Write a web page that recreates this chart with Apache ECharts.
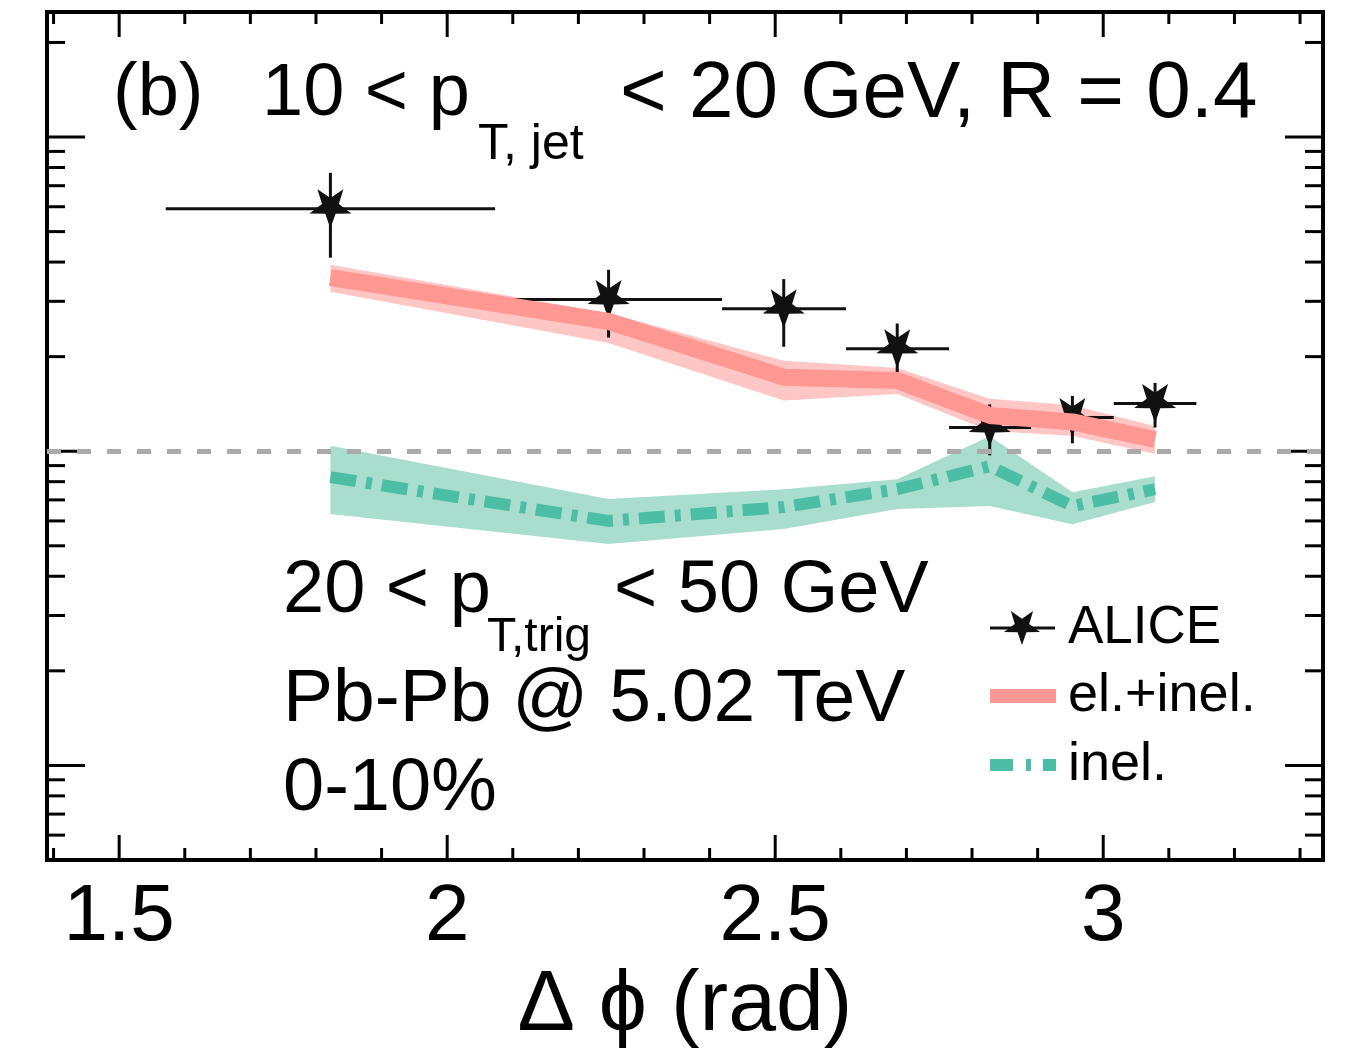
<!DOCTYPE html>
<html>
<head>
<meta charset="utf-8">
<script src="https://cdn.jsdelivr.net/npm/echarts@6/dist/echarts.min.js"></script>
<style>
html, body { margin: 0; padding: 0; background: #fff; }
#main { width: 1351px; height: 1054px; }
</style>
</head>
<body>
<div id="main"></div>
<script>
/* ALICE points: bin centre, bin edges, value, stat. error */
var aliceX   = [1.822, 2.246, 2.513, 2.686, 2.827, 2.953, 3.079];
var aliceXLo = [1.571, 2.073, 2.419, 2.608, 2.765, 2.890, 3.016];
var aliceXHi = [2.073, 2.419, 2.608, 2.765, 2.890, 3.016, 3.142];
var aliceY   = [5.91, 3.04, 2.84, 2.12, 1.19, 1.28, 1.42];
var aliceErr = [1.78, 0.74, 0.69, 0.43, 0.22, 0.22, 0.23];

/* model: el.+inel. and inel. (central value + band) */
var modelX   = [1.822, 2.246, 2.513, 2.686, 2.827, 2.953, 3.079];
var elInel   = [3.57, 2.59, 1.72, 1.68, 1.30, 1.24, 1.09];
var elInelLo = [3.22, 2.21, 1.45, 1.52, 1.16, 1.12, 0.98];
var elInelHi = [3.92, 2.75, 1.94, 1.84, 1.47, 1.40, 1.20];
var inel     = [0.827, 0.600, 0.664, 0.757, 0.896, 0.669, 0.757];
var inelLo   = [0.631, 0.507, 0.566, 0.655, 0.669, 0.586, 0.689];
var inelHi   = [1.040, 0.704, 0.757, 0.815, 1.116, 0.741, 0.833];

/* tick marks */
var xMajor = [1.5, 2, 2.5, 3];
var xMinor = [1.4, 1.6, 1.7, 1.8, 1.9, 2.1, 2.2, 2.3, 2.4, 2.6, 2.7, 2.8, 2.9, 3.1, 3.2, 3.3];
var yMajor = [0.1, 1, 10];
var yMinor = [0.05, 0.06, 0.07, 0.08, 0.09, 0.2, 0.3, 0.4, 0.5, 0.6, 0.7, 0.8, 0.9,
              2, 3, 4, 5, 6, 7, 8, 9, 20];

var FONT = 'Liberation Sans';
var RED = '#ff9793', PINK = '#ffc6c6', GREEN = '#4dbea6', LGREEN = '#a9dece';
// upside-down five point star, 200x200 box
var STAR_PTS = [[100,200],[76.5,132.4],[4.9,130.9],[62,87.6],[41.2,19.1],[100,60],
                [158.8,19.1],[138,87.6],[195.1,130.9],[123.5,132.4]];
var STAR = 'path://M' + STAR_PTS.map(function (p) { return p.join(','); }).join('L') + 'Z';

function starAt(cx, cy, w, h) {
    return STAR_PTS.map(function (p) {
        return [cx + (p[0] - 100) / 190.2 * w, cy + (p[1] - 109.5) / 180.9 * h];
    });
}

function zip(a, b, c) {
    return a.map(function (v, i) { return c ? [v, b[i], c[i]] : [v, b[i]]; });
}

// band drawn as one polygon through the axis scales
function bandItem(xs, lo, hi, color) {
    return function (params, api) {
        if (params.dataIndex !== 0) return;
        var pts = [];
        for (var i = 0; i < xs.length; i++) pts.push(api.coord([xs[i], hi[i]]));
        for (var j = xs.length - 1; j >= 0; j--) pts.push(api.coord([xs[j], lo[j]]));
        return { type: 'polygon', shape: { points: pts }, style: { fill: color } };
    };
}

// inward ticks on both sides of the frame
function tickItem(dim, len) {
    return function (params, api) {
        var cs = params.coordSys;
        var st = { stroke: '#000', lineWidth: 3 };
        if (dim === 'x') {
            var px = api.coord([api.value(0), 1])[0];
            return { type: 'group', children: [
                { type: 'line', shape: { x1: px, y1: cs.y + cs.height, x2: px, y2: cs.y + cs.height - len }, style: st },
                { type: 'line', shape: { x1: px, y1: cs.y, x2: px, y2: cs.y + len }, style: st }
            ] };
        }
        var py = api.coord([2, api.value(1)])[1];
        return { type: 'group', children: [
            { type: 'line', shape: { x1: cs.x, y1: py, x2: cs.x + len, y2: py }, style: st },
            { type: 'line', shape: { x1: cs.x + cs.width, y1: py, x2: cs.x + cs.width - len, y2: py }, style: st }
        ] };
    };
}

function errItem(params, api) {
    var i = params.dataIndex;
    var c = api.coord([aliceX[i], aliceY[i]]);
    var l = api.coord([aliceXLo[i], aliceY[i]]);
    var r = api.coord([aliceXHi[i], aliceY[i]]);
    var t = api.coord([aliceX[i], aliceY[i] + aliceErr[i]]);
    var b = api.coord([aliceX[i], aliceY[i] - aliceErr[i]]);
    var st = { stroke: '#111', lineWidth: 3 };
    return { type: 'group', children: [
        { type: 'line', shape: { x1: l[0], y1: c[1], x2: r[0], y2: c[1] }, style: st },
        { type: 'line', shape: { x1: c[0], y1: t[1], x2: c[0], y2: b[1] }, style: st }
    ] };
}

function txt(str, x, y, size) {
    return { type: 'text', x: x, y: y,
             style: { text: str, fontSize: size, fontFamily: FONT, fill: '#000',
                      align: 'left', verticalAlign: 'middle' } };
}

var myChart = echarts.init(document.getElementById('main'));
var option = {
    animation: false,
    backgroundColor: '#fff',
    grid: {
        left: 47, right: 28, top: 12, bottom: 194,
        show: true, borderColor: '#000', borderWidth: 4
    },
    xAxis: {
        type: 'value', min: 1.39, max: 3.335, splitNumber: 4,
        axisLine: { show: false }, axisTick: { show: false }, splitLine: { show: false },
        axisLabel: {
            fontSize: 80, color: '#000', fontFamily: FONT, margin: 18,
            showMinLabel: false, showMaxLabel: false
        },
        name: 'Δ ϕ (rad)', nameLocation: 'middle', nameGap: 96,
        nameTextStyle: { fontSize: 86, color: '#000', fontFamily: FONT }
    },
    yAxis: {
        type: 'log', logBase: 10, min: 0.05, max: 25,
        axisLine: { show: false }, axisTick: { show: false },
        axisLabel: { show: false }, splitLine: { show: false }
    },
    series: [
        { name: 'inel. band', type: 'custom', renderItem: bandItem(modelX, inelLo, inelHi, LGREEN),
          data: zip(modelX, inelLo, inelHi), encode: { x: 0, y: [1, 2] }, silent: true },
        { name: 'el.+inel. band', type: 'custom', renderItem: bandItem(modelX, elInelLo, elInelHi, PINK),
          data: zip(modelX, elInelLo, elInelHi), encode: { x: 0, y: [1, 2] }, silent: true },
        { name: 'el.+inel.', type: 'line', data: zip(modelX, elInel), symbol: 'none',
          lineStyle: { color: RED, width: 17, cap: 'butt' } },
        { name: 'inel.', type: 'line', data: zip(modelX, inel), symbol: 'none',
          lineStyle: { color: GREEN, width: 12, type: [26, 10, 6, 10], cap: 'butt' } },
        { name: 'unity', type: 'line', data: [], symbol: 'none',
          markLine: { silent: true, symbol: 'none', label: { show: false },
                      lineStyle: { color: '#aaa', width: 5, type: [14, 16] },
                      data: [{ yAxis: 1 }] } },
        { name: 'ALICE err', type: 'custom', renderItem: errItem, data: zip(aliceX, aliceY), silent: true },
        { name: 'ALICE', type: 'scatter', data: zip(aliceX, aliceY), symbol: STAR,
          symbolSize: [42, 39], itemStyle: { color: '#111', opacity: 1 } },
        { name: 'xMajor', type: 'custom', renderItem: tickItem('x', 25), silent: true,
          data: xMajor.map(function (v) { return [v, 1]; }) },
        { name: 'xMinor', type: 'custom', renderItem: tickItem('x', 12), silent: true,
          data: xMinor.map(function (v) { return [v, 1]; }) },
        { name: 'yMajor', type: 'custom', renderItem: tickItem('y', 38), silent: true,
          data: yMajor.map(function (v) { return [2, v]; }) },
        { name: 'yMinor', type: 'custom', renderItem: tickItem('y', 18), silent: true,
          data: yMinor.map(function (v) { return [2, v]; }) }
    ],
    graphic: [
        // top caption
        txt('(b)', 113, 95, 74),
        txt('10 < p', 262, 95, 74),
        txt('T, jet', 478, 145, 50),
        txt('< 20 GeV, R = 0.4', 620, 95, 80),
        // lower caption
        txt('20 < p', 283, 592, 74),
        txt('T,trig', 487, 638, 48),
        txt('< 50 GeV', 614, 592, 74),
        txt('Pb-Pb @ 5.02 TeV', 283, 700, 75),
        txt('0-10%', 283, 790, 74),
        // legend
        { type: 'line', shape: { x1: 990, y1: 628, x2: 1055, y2: 628 }, style: { stroke: '#111', lineWidth: 3 } },
        { type: 'polygon', shape: { points: starAt(1022, 628, 36, 34) }, style: { fill: '#111' } },
        txt('ALICE', 1068, 628, 53),
        { type: 'rect', shape: { x: 990, y: 689, width: 66, height: 14 }, style: { fill: RED } },
        txt('el.+inel.', 1068, 696, 54),
        { type: 'rect', shape: { x: 990, y: 759, width: 23, height: 12 }, style: { fill: GREEN } },
        { type: 'rect', shape: { x: 1026, y: 759, width: 5, height: 12 }, style: { fill: GREEN } },
        { type: 'rect', shape: { x: 1043, y: 759, width: 13, height: 12 }, style: { fill: GREEN } },
        txt('inel.', 1068, 765, 54)
    ]
};
myChart.setOption(option);
</script>
</body>
</html>
